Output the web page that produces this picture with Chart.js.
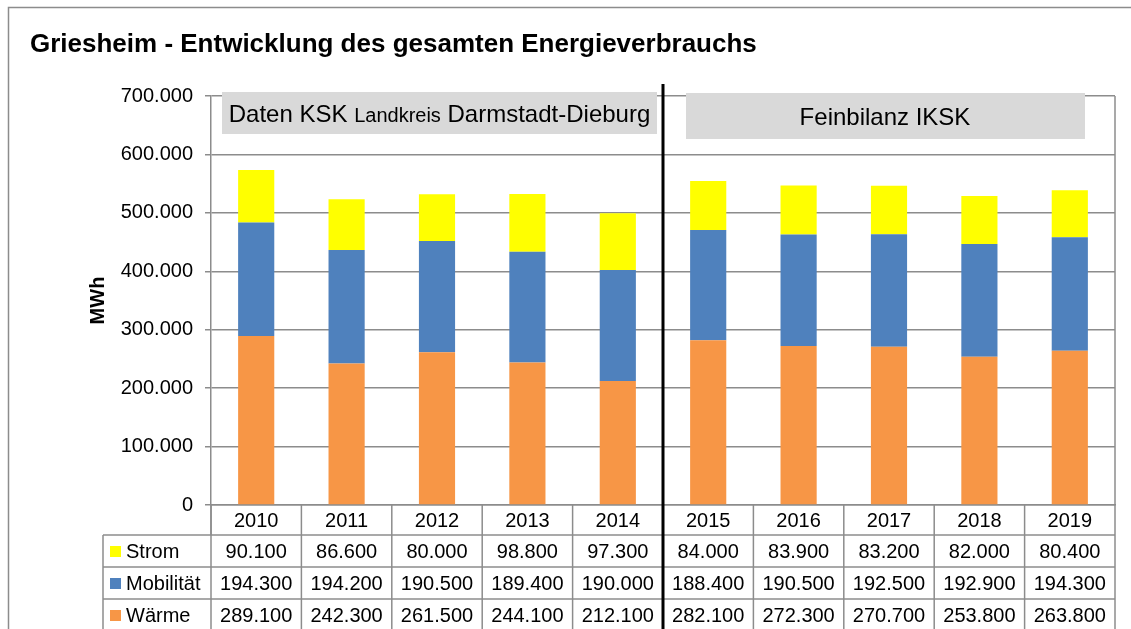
<!DOCTYPE html>
<html>
<head>
<meta charset="utf-8">
<script src="https://cdn.jsdelivr.net/npm/chart.js@4"></script>
<style>
  body { margin: 0; background: #fff; }
  #wrap { width: 1131px; height: 629px; position: relative; }
</style>
</head>
<body>
<div id="wrap"><canvas id="energyChart"></canvas></div>
<script>
const years = ["2010", "2011", "2012", "2013", "2014", "2015", "2016", "2017", "2018", "2019"];
const strom = [90100, 86600, 80000, 98800, 97300, 84000, 83900, 83200, 82000, 80400];
const mobilitaet = [194300, 194200, 190500, 189400, 190000, 188400, 190500, 192500, 192900, 194300];
const waerme = [289100, 242300, 261500, 244100, 212100, 282100, 272300, 270700, 253800, 263800];
const yTicks = [0, 100000, 200000, 300000, 400000, 500000, 600000, 700000];

const colors = {
  strom: "#ffff00",
  mobilitaet: "#4f81bd",
  waerme: "#f79646",
  grid: "#8c8c8c",
};

const fontFamily = "'Liberation Sans', Arial, sans-serif";

const fmt = (n) => String(n).replace(/\B(?=(\d{3})+(?!\d))/g, ".");

// rows of the data table under the chart, top to bottom
const tableRows = [
  { label: "Strom", values: strom, color: colors.strom },
  { label: "Mobilität", values: mobilitaet, color: colors.mobilitaet },
  { label: "Wärme", values: waerme, color: colors.waerme },
];

const line = (ctx, x1, y1, x2, y2) => {
  ctx.beginPath();
  ctx.moveTo(x1, y1);
  ctx.lineTo(x2, y2);
  ctx.stroke();
};

const decorPlugin = {
  id: "decor",
  beforeDraw(chart) {
    const ctx = chart.ctx;
    ctx.save();
    ctx.fillStyle = "#fff";
    ctx.fillRect(0, 0, chart.width, chart.height);
    ctx.strokeStyle = "#8c8c8c";
    ctx.lineWidth = 1.5;
    ctx.strokeRect(8.5, 7.5, 1200, 800);
    ctx.restore();
  },
  afterDraw(chart) {
    const { ctx, chartArea: a, scales } = chart;
    const x = scales.x;
    const colW = x.width / years.length;
    ctx.save();

    // right border of plot area
    ctx.strokeStyle = colors.grid;
    ctx.lineWidth = 1.5;
    line(ctx, a.right, a.top, a.right, a.bottom);

    // data table
    const headerTop = a.bottom;
    const headerBottom = headerTop + 30;
    const rowH = 32;
    const legendLeft = 103;
    line(ctx, a.left, headerTop, a.left, headerBottom);
    for (let i = 0; i <= years.length; i++) {
      const xx = a.left + i * colW;
      line(ctx, xx, headerTop, xx, chart.height);
    }
    line(ctx, legendLeft, headerBottom, legendLeft, chart.height);
    for (let r = 0; r <= tableRows.length; r++) {
      const yy = headerBottom + r * rowH;
      line(ctx, legendLeft, yy, a.right, yy);
    }

    ctx.fillStyle = "#000";
    ctx.font = "20px " + fontFamily;
    ctx.textAlign = "center";
    ctx.textBaseline = "middle";
    years.forEach((yr, i) => {
      ctx.fillText(yr, x.getPixelForValue(i), (headerTop + headerBottom) / 2 + 1);
    });
    tableRows.forEach((row, r) => {
      const cy = headerBottom + r * rowH + rowH / 2 + 1;
      row.values.forEach((v, i) => {
        ctx.fillStyle = "#000";
        ctx.textAlign = "center";
        ctx.fillText(fmt(v), x.getPixelForValue(i), cy);
      });
      ctx.fillStyle = row.color;
      ctx.fillRect(110, cy - 6, 11, 11);
      ctx.fillStyle = "#000";
      ctx.textAlign = "left";
      ctx.fillText(row.label, 126, cy);
    });

    // annotation boxes
    ctx.fillStyle = "#d9d9d9";
    ctx.fillRect(222, 92, 435, 42);
    ctx.fillRect(686, 93, 399, 46);
    ctx.fillStyle = "#000";
    ctx.textBaseline = "alphabetic";
    const parts = [
      { t: "Daten KSK ", f: "24px " + fontFamily },
      { t: "Landkreis", f: "20px " + fontFamily },
      { t: " Darmstadt-Dieburg", f: "24px " + fontFamily },
    ];
    let total = 0;
    parts.forEach((p) => {
      ctx.font = p.f;
      p.w = ctx.measureText(p.t).width;
      total += p.w;
    });
    let px = 222 + (435 - total) / 2;
    ctx.textAlign = "left";
    parts.forEach((p) => {
      ctx.font = p.f;
      ctx.fillText(p.t, px, 122);
      px += p.w;
    });
    ctx.font = "24px " + fontFamily;
    ctx.textAlign = "center";
    ctx.fillText("Feinbilanz IKSK", 885, 125);

    // separator between the two data sources
    const sepX = (x.getPixelForValue(4) + x.getPixelForValue(5)) / 2;
    ctx.strokeStyle = "#000";
    ctx.lineWidth = 3;
    line(ctx, sepX, 84, sepX, chart.height);

    // title
    ctx.font = "bold 26px " + fontFamily;
    ctx.textAlign = "left";
    ctx.textBaseline = "alphabetic";
    ctx.fillText("Griesheim - Entwicklung des gesamten Energieverbrauchs", 30, 52);

    ctx.restore();
  },
};

new Chart(document.getElementById("energyChart"), {
  type: "bar",
  data: {
    labels: years,
    datasets: [
      { label: "Wärme", data: waerme, backgroundColor: colors.waerme },
      { label: "Mobilität", data: mobilitaet, backgroundColor: colors.mobilitaet },
      { label: "Strom", data: strom, backgroundColor: colors.strom },
    ],
  },
  options: {
    responsive: true,
    maintainAspectRatio: false,
    animation: false,
    layout: { padding: { top: 96, right: 16, bottom: 124, left: 78 } },
    datasets: { bar: { barPercentage: 0.4, categoryPercentage: 1.0 } },
    plugins: {
      legend: { display: false },
      tooltip: { enabled: false },
      title: { display: false },
    },
    scales: {
      x: {
        stacked: true,
        ticks: { display: false },
        grid: { display: false },
        border: { display: true, color: colors.grid, width: 1.5 },
        afterFit: (s) => { s.height = 0; },
      },
      y: {
        stacked: true,
        min: 0,
        max: 700000,
        afterBuildTicks: (s) => { s.ticks = yTicks.map((v) => ({ value: v })); },
        afterFit: (s) => { s.width = 133; },
        ticks: {
          color: "#000",
          padding: 12,
          font: { family: fontFamily, size: 20 },
          callback: (v) => fmt(v),
        },
        grid: { color: colors.grid, lineWidth: 1.5, tickLength: 6 },
        border: { color: colors.grid, width: 1.5 },
        title: {
          display: true,
          text: "MWh",
          color: "#000",
          font: { family: fontFamily, size: 20, weight: "bold" },
          padding: { top: 8, bottom: 0 },
        },
      },
    },
  },
  plugins: [decorPlugin],
});
</script>
</body>
</html>
